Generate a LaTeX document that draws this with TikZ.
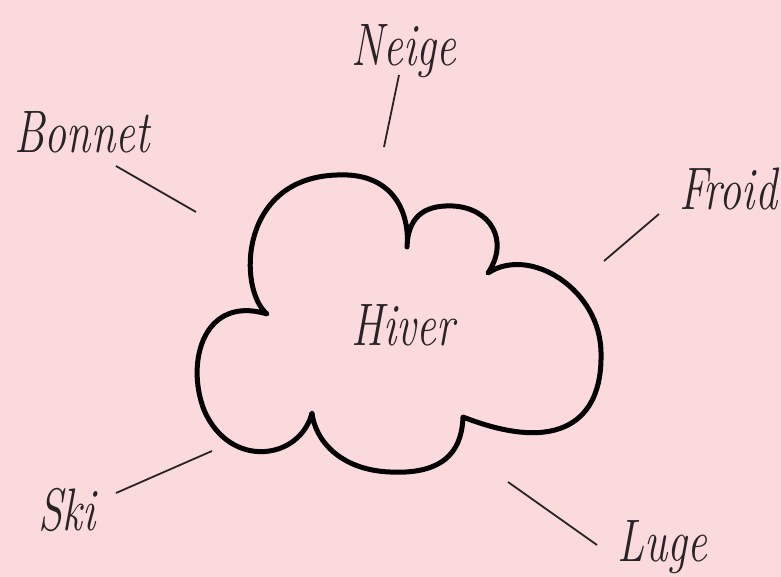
\documentclass[tikz,border=0pt]{standalone}
\usepackage{fontspec}
\definecolor{bg}{RGB}{251,218,221}
\definecolor{ink}{RGB}{40,36,38}
\newcommand{\tallword}[1]{\scalebox{1.1}[1.5]{#1}}
\begin{document}
\begin{tikzpicture}[x=1pt,y=-1pt,
  lbl/.style={text=ink, font=\fontsize{40}{40}\selectfont\itshape, anchor=base, inner sep=0pt},
  link/.style={draw=ink, line width=1.8pt},
  cloudline/.style={draw=black, line width=5pt, line join=round, line cap=round}]
\fill[bg] (0,0) rectangle (781,577);
\useasboundingbox (0,0) rectangle (781,577);

% cloud
\coordinate (d1) at (267,314);
\coordinate (d2) at (407,247);
\coordinate (d3) at (488,273);
\coordinate (d4) at (463,417);
\coordinate (d5) at (312,413);
\draw[cloudline] (d1)
  .. controls (238,290) and (238,178) .. (337,175)
  .. controls (395,172) and (410,215) .. (d2)
  .. controls (408,212) and (430,205) .. (453,206)
  .. controls (490,208) and (510,240) .. (d3)
  .. controls (530,245) and (602,290) .. (601,355)
  .. controls (602,420) and (560,455) .. (d4)
  .. controls (462,445) and (450,475) .. (390,472)
  .. controls (340,470) and (315,440) .. (d5)
  .. controls (300,460) and (230,470) .. (204,410)
  .. controls (185,360) and (205,295) .. (d1) -- cycle;

% labels
\node[lbl] (hiver)  at (403,345) {\tallword{Hiver}};
\node[lbl] (neige)  at (404,66)  {\tallword{Neige}};
\node[lbl] (bonnet) at (82,153)  {\tallword{Bonnet}};
\node[lbl] (froid)  at (728,210) {\tallword{Froid}};
\node[lbl] (ski)    at (67,530)  {\tallword{Ski}};
\node[lbl] (luge)   at (662,561) {\tallword{Luge}};

% connector ends
\coordinate (n1) at (399,75);  \coordinate (n2) at (384,147);
\coordinate (b1) at (116,166); \coordinate (b2) at (196,212);
\coordinate (f1) at (659,214); \coordinate (f2) at (604,261);
\coordinate (s1) at (116,493); \coordinate (s2) at (212,451);
\coordinate (l1) at (508,482); \coordinate (l2) at (597,545);

\draw[link] (n1) -- (n2);
\draw[link] (b1) -- (b2);
\draw[link] (f1) -- (f2);
\draw[link] (s1) -- (s2);
\draw[link] (l1) -- (l2);
\end{tikzpicture}
\end{document}
